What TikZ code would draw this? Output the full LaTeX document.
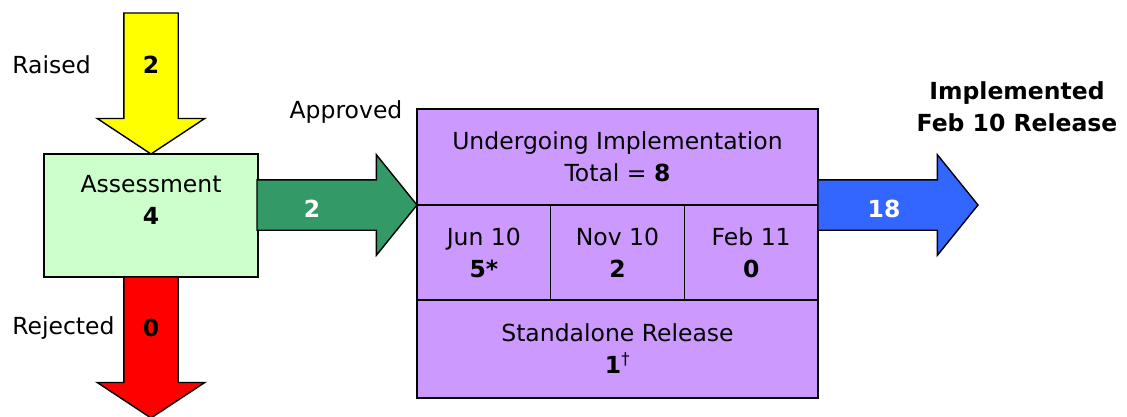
\documentclass[tikz,border=0pt]{standalone}
\usepackage{fontspec}
\setmainfont{DejaVu Sans}
\usepackage{xcolor}
\usepackage{tikz}
\usetikzlibrary{positioning}
\usetikzlibrary{shapes.arrows}

\definecolor{raisedyellow}{HTML}{FFFF00}
\definecolor{assessgreen}{HTML}{CCFFCC}
\definecolor{approvedgreen}{HTML}{339966}
\definecolor{rejectedred}{HTML}{FF0000}
\definecolor{implpurple}{HTML}{CC99FF}
\definecolor{releaseblue}{HTML}{3366FF}

\tikzset{
  every node/.style={font=\fontsize{23.5}{32}\selectfont, align=center, outer sep=0pt},
  stagebox/.style={draw, line width=1.4pt, inner sep=0pt},
  flowarrow/.style={single arrow, draw, line width=1.4pt, inner xsep=0pt,
    single arrow head indent=0pt},
  vertarrow/.style={flowarrow, rotate=-90, minimum height=141pt, inner ysep=26.5pt,
    single arrow head extend=26.5pt, single arrow tip angle=113.1},
  horizarrow/.style={flowarrow, minimum height=160pt, inner ysep=24.5pt,
    single arrow head extend=25pt, single arrow tip angle=102.1},
  count/.style={font=\fontsize{23.5}{32}\selectfont\bfseries}
}

\begin{document}
\begin{tikzpicture}[x=1pt, y=-1pt]
\useasboundingbox (0,0) rectangle (1127,416);

% boxes %
\node[stagebox, fill=assessgreen, minimum width=214pt, minimum height=123pt] (assess) at (151,215.5) {Assessment\\\textbf{4}\\~};
\node[stagebox, fill=implpurple, minimum width=401pt, minimum height=96pt, anchor=north west] (impl) at (417,109) {Undergoing Implementation\\Total = \textbf{8}};
\node[stagebox, fill=implpurple, minimum width=133.67pt, minimum height=95pt, below right=0pt and 0pt of impl.south west] (jun) {Jun 10\\\textbf{5*}};
\node[stagebox, fill=implpurple, minimum width=133.67pt, minimum height=95pt, right=0pt of jun] (nov) {Nov 10\\\textbf{2}};
\node[stagebox, fill=implpurple, minimum width=133.67pt, minimum height=95pt, right=0pt of nov] (feb) {Feb 11\\\textbf{0}};
\node[stagebox, fill=implpurple, minimum width=401pt, minimum height=98pt, below=0pt of nov] (standalone) {Standalone Release\\\textbf{1}\textsuperscript{\dag}};

% arrows %
\node[vertarrow, fill=raisedyellow, anchor=tip] (raised) at (assess.north) {};
\node[vertarrow, fill=rejectedred, anchor=tail] (rejected) at (assess.south) {};
\node[horizarrow, fill=approvedgreen, anchor=tip] (approved) at (impl.south west) {};
\node[horizarrow, fill=releaseblue, anchor=tail] (released) at (impl.south east) {};

% labels %
\node[anchor=west] (raisedlbl) at (9,65) {Raised};
\node[anchor=west] (rejectedlbl) at (9,328) {Rejected};
\node (approvedlbl) at (346,112) {Approved};
\node[count] (raisedn) at (151,65) {2};
\node[count] (rejectedn) at (151,328) {0};
\node[count, text=white] (approvedn) at (312,209) {2};
\node[count, text=white] (releasedn) at (884,209) {18};
\node[count] (implementedlbl) at (1017,106.5) {Implemented\\Feb 10 Release};

\end{tikzpicture}
\end{document}
